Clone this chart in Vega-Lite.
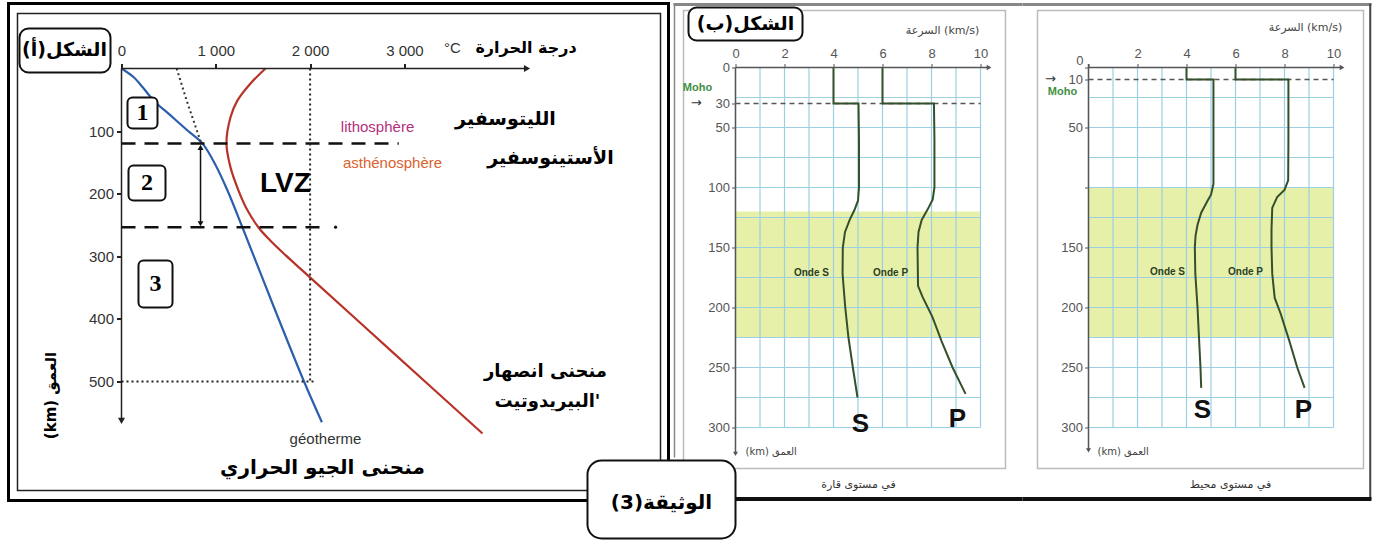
{
"$schema": "https://vega.github.io/schema/vega-lite/v6.json",
"background": "white",
"padding": {"left": 6.5, "top": 1.5, "right": 8, "bottom": 2},
"bounds": "flush",
"spacing": 5,
"config": {"view": {"stroke": null}, "text": {"font": "DejaVu Sans", "baseline": "middle"}, "axis": {"labelFont": "Liberation Sans", "grid": false, "domain": false, "title": null, "labelOverlap": false}},
"datasets": {
"one": [{}],
"gv": [{"g":0},{"g":1},{"g":2},{"g":3},{"g":4},{"g":5},{"g":6},{"g":7},{"g":8},{"g":9},{"g":10}],
"gh": [{"g":0},{"g":25},{"g":50},{"g":75},{"g":100},{"g":125},{"g":150},{"g":175},{"g":200},{"g":225},{"g":250},{"g":275},{"g":300}],
"geo": [{"T":0,"D":0},{"T":130,"D":14},{"T":225,"D":30},{"T":340,"D":51},{"T":520,"D":75},{"T":700,"D":99},{"T":860,"D":120},{"T":1000,"D":155},{"T":1124,"D":195},{"T":1283,"D":254},{"T":1600,"D":375},{"T":1930,"D":498},{"T":2125,"D":565}],
"sol": [{"T":1527,"D":0},{"T":1368,"D":24},{"T":1230,"D":51},{"T":1156,"D":78},{"T":1113,"D":120},{"T":1156,"D":158},{"T":1241,"D":195},{"T":1330,"D":225},{"T":1453,"D":254},{"T":1585,"D":276},{"T":1745,"D":299},{"T":1920,"D":323},{"T":2874,"D":453},{"T":3828,"D":583}],
"dot": [{"T":585,"D":0},{"T":690,"D":51},{"T":840,"D":117}],
"vel": [
{"p":"c","w":"S","i":0,"v":4.0,"d":0},{"p":"c","w":"S","i":1,"v":4.0,"d":30},{"p":"c","w":"S","i":2,"v":5.02,"d":30},{"p":"c","w":"S","i":3,"v":5.04,"d":60},{"p":"c","w":"S","i":4,"v":5.04,"d":100},{"p":"c","w":"S","i":5,"v":5.0,"d":111},{"p":"c","w":"S","i":6,"v":4.85,"d":119},{"p":"c","w":"S","i":7,"v":4.66,"d":127},{"p":"c","w":"S","i":8,"v":4.47,"d":137},{"p":"c","w":"S","i":9,"v":4.38,"d":150},{"p":"c","w":"S","i":10,"v":4.37,"d":172},{"p":"c","w":"S","i":11,"v":4.48,"d":200},{"p":"c","w":"S","i":12,"v":4.61,"d":225},{"p":"c","w":"S","i":13,"v":4.79,"d":250},{"p":"c","w":"S","i":14,"v":4.98,"d":275},
{"p":"c","w":"P","i":0,"v":6.0,"d":0},{"p":"c","w":"P","i":1,"v":6.0,"d":30},{"p":"c","w":"P","i":2,"v":8.1,"d":30},{"p":"c","w":"P","i":3,"v":8.12,"d":60},{"p":"c","w":"P","i":4,"v":8.12,"d":100},{"p":"c","w":"P","i":5,"v":8.05,"d":110},{"p":"c","w":"P","i":6,"v":7.85,"d":118},{"p":"c","w":"P","i":7,"v":7.6,"d":127},{"p":"c","w":"P","i":8,"v":7.47,"d":137},{"p":"c","w":"P","i":9,"v":7.43,"d":150},{"p":"c","w":"P","i":10,"v":7.45,"d":182},{"p":"c","w":"P","i":11,"v":7.63,"d":191},{"p":"c","w":"P","i":12,"v":8.04,"d":208},{"p":"c","w":"P","i":13,"v":8.41,"d":228},{"p":"c","w":"P","i":14,"v":8.86,"d":250},{"p":"c","w":"P","i":15,"v":9.39,"d":272},
{"p":"o","w":"S","i":0,"v":4.0,"d":0},{"p":"o","w":"S","i":1,"v":4.0,"d":10},{"p":"o","w":"S","i":2,"v":5.1,"d":10},{"p":"o","w":"S","i":3,"v":5.1,"d":60},{"p":"o","w":"S","i":4,"v":5.1,"d":97},{"p":"o","w":"S","i":5,"v":5.0,"d":106},{"p":"o","w":"S","i":6,"v":4.86,"d":111},{"p":"o","w":"S","i":7,"v":4.6,"d":121},{"p":"o","w":"S","i":8,"v":4.45,"d":131},{"p":"o","w":"S","i":9,"v":4.37,"d":140},{"p":"o","w":"S","i":10,"v":4.34,"d":150},{"p":"o","w":"S","i":11,"v":4.36,"d":172},{"p":"o","w":"S","i":12,"v":4.45,"d":200},{"p":"o","w":"S","i":13,"v":4.51,"d":225},{"p":"o","w":"S","i":14,"v":4.57,"d":250},{"p":"o","w":"S","i":15,"v":4.6,"d":267},
{"p":"o","w":"P","i":0,"v":6.0,"d":0},{"p":"o","w":"P","i":1,"v":6.0,"d":10},{"p":"o","w":"P","i":2,"v":8.16,"d":10},{"p":"o","w":"P","i":3,"v":8.16,"d":60},{"p":"o","w":"P","i":4,"v":8.15,"d":94},{"p":"o","w":"P","i":5,"v":8.0,"d":102},{"p":"o","w":"P","i":6,"v":7.7,"d":108},{"p":"o","w":"P","i":7,"v":7.5,"d":117},{"p":"o","w":"P","i":8,"v":7.47,"d":135},{"p":"o","w":"P","i":9,"v":7.47,"d":150},{"p":"o","w":"P","i":10,"v":7.5,"d":172},{"p":"o","w":"P","i":11,"v":7.6,"d":192},{"p":"o","w":"P","i":12,"v":7.84,"d":205},{"p":"o","w":"P","i":13,"v":8.2,"d":228},{"p":"o","w":"P","i":14,"v":8.52,"d":250},{"p":"o","w":"P","i":15,"v":8.82,"d":267}
]
},
"hconcat": [
{
"width": 660, "height": 497,
"view": {"stroke": "black", "strokeWidth": 3},
"layer": [
{"data": {"name": "one"}, "mark": {"type": "rect", "fill": null, "stroke": "#222", "strokeWidth": 1.5}, "encoding": {"x": {"datum": -1102.9}, "x2": {"datum": 5715.8}, "y": {"datum": -87.9}, "y2": {"datum": 674.1}}},
{"data": {"name": "geo"}, "mark": {"type": "line", "color": "#2b5fad", "strokeWidth": 2.2, "interpolate": "catmull-rom"},
 "encoding": {
  "x": {"field": "T", "type": "quantitative", "scale": {"domain": [-1198.3, 5800.6], "nice": false, "zero": false}, "axis": {"orient": "top", "offset": -65, "values": [0, 1000, 2000, 3000], "labelExpr": "datum.value == 0 ? '0' : format(datum.value / 1000, 'd') + ' 000'", "tickSize": 5, "tickWidth": 2, "tickColor": "#222", "labelPadding": 5, "labelFontSize": 15, "labelColor": "#333", "title": null}},
  "y": {"field": "D", "type": "quantitative", "scale": {"domain": [-103.8, 690.1], "nice": false, "zero": false, "reverse": true}, "axis": {"orient": "left", "offset": -113, "values": [100, 200, 300, 400, 500], "tickSize": 5, "tickWidth": 2, "tickColor": "#222", "labelPadding": 3, "labelFontSize": 15, "labelColor": "#333", "title": null}},
  "order": {"field": "D"}}},
{"data": {"name": "sol"}, "mark": {"type": "line", "color": "#b83228", "strokeWidth": 2.2, "interpolate": "catmull-rom"}, "encoding": {"x": {"field": "T", "type": "quantitative"}, "y": {"field": "D", "type": "quantitative"}, "order": {"field": "D"}}},
{"data": {"name": "dot"}, "mark": {"type": "line", "color": "#333", "strokeWidth": 2, "strokeDash": [2, 3]}, "encoding": {"x": {"field": "T", "type": "quantitative"}, "y": {"field": "D", "type": "quantitative"}, "order": {"field": "D"}}},
{"data": {"name": "one"}, "mark": {"type": "rule", "color": "#222", "strokeWidth": 1.5}, "encoding": {"x": {"datum": 0}, "x2": {"datum": 4290}, "y": {"datum": 0}}},
{"data": {"name": "one"}, "mark": {"type": "point", "shape": "triangle-right", "filled": true, "size": 50, "color": "#222", "opacity": 1}, "encoding": {"x": {"datum": 4300}, "y": {"datum": 0}}},
{"data": {"name": "one"}, "mark": {"type": "rule", "color": "#222", "strokeWidth": 1.5}, "encoding": {"x": {"datum": 0}, "y": {"datum": 0}, "y2": {"datum": 560}}},
{"data": {"name": "one"}, "mark": {"type": "point", "shape": "triangle-down", "filled": true, "size": 50, "color": "#222", "opacity": 1}, "encoding": {"x": {"datum": 0}, "y": {"datum": 563}}},
{"data": {"name": "one"}, "mark": {"type": "rule", "color": "#111", "strokeWidth": 2.5, "strokeDash": [14, 9]}, "encoding": {"x": {"datum": 0}, "x2": {"datum": 2940}, "y": {"datum": 120}}},
{"data": {"name": "one"}, "mark": {"type": "rule", "color": "#111", "strokeWidth": 2.5, "strokeDash": [14, 9]}, "encoding": {"x": {"datum": 0}, "x2": {"datum": 2110}, "y": {"datum": 253.5}}},
{"data": {"name": "one"}, "mark": {"type": "point", "shape": "circle", "filled": true, "size": 10, "color": "#111", "opacity": 1}, "encoding": {"x": {"datum": 2270}, "y": {"datum": 253.5}}},
{"data": {"name": "one"}, "mark": {"type": "rule", "color": "#222", "strokeWidth": 2, "strokeDash": [2, 3]}, "encoding": {"x": {"datum": 2000}, "y": {"datum": 0}, "y2": {"datum": 500}}},
{"data": {"name": "one"}, "mark": {"type": "rule", "color": "#222", "strokeWidth": 2, "strokeDash": [2, 3]}, "encoding": {"x": {"datum": 0}, "x2": {"datum": 2050}, "y": {"datum": 500}}},
{"data": {"name": "one"}, "mark": {"type": "rule", "color": "#111", "strokeWidth": 1.5}, "encoding": {"x": {"datum": 838}, "y": {"datum": 126}, "y2": {"datum": 248}}},
{"data": {"name": "one"}, "mark": {"type": "point", "shape": "triangle-up", "filled": true, "size": 35, "color": "#111", "opacity": 1}, "encoding": {"x": {"datum": 838}, "y": {"datum": 126}}},
{"data": {"name": "one"}, "mark": {"type": "point", "shape": "triangle-down", "filled": true, "size": 35, "color": "#111", "opacity": 1}, "encoding": {"x": {"datum": 838}, "y": {"datum": 248}}},
{"data": {"name": "one"}, "mark": {"type": "rect", "fill": "white", "stroke": "#111", "strokeWidth": 2, "cornerRadius": 5}, "encoding": {"x": {"datum": 63.6}, "x2": {"datum": 381.8}, "y": {"datum": 46.3}, "y2": {"datum": 95.8}}},
{"data": {"name": "one"}, "mark": {"type": "rect", "fill": "white", "stroke": "#111", "strokeWidth": 2, "cornerRadius": 5}, "encoding": {"x": {"datum": 74.2}, "x2": {"datum": 466.6}, "y": {"datum": 155}, "y2": {"datum": 210.9}}},
{"data": {"name": "one"}, "mark": {"type": "rect", "fill": "white", "stroke": "#111", "strokeWidth": 2, "cornerRadius": 5}, "encoding": {"x": {"datum": 180}, "x2": {"datum": 541}, "y": {"datum": 306.7}, "y2": {"datum": 381.8}}},
{"data": {"name": "one"}, "mark": {"type": "text", "text": "1", "font": "Liberation Serif", "fontWeight": "bold", "fontSize": 24}, "encoding": {"x": {"datum": 222.7}, "y": {"datum": 71}}},
{"data": {"name": "one"}, "mark": {"type": "text", "text": "2", "font": "Liberation Serif", "fontWeight": "bold", "fontSize": 24}, "encoding": {"x": {"datum": 270}, "y": {"datum": 183}}},
{"data": {"name": "one"}, "mark": {"type": "text", "text": "3", "font": "Liberation Serif", "fontWeight": "bold", "fontSize": 24}, "encoding": {"x": {"datum": 360}, "y": {"datum": 344}}},
{"data": {"name": "one"}, "mark": {"type": "rect", "fill": "white", "stroke": "#111", "strokeWidth": 2, "cornerRadius": 9}, "encoding": {"x": {"datum": -1081.7}, "x2": {"datum": -116.6}, "y": {"datum": -63.9}, "y2": {"datum": 6.4}}},
{"data": {"name": "one"}, "mark": {"type": "text", "text": "(أ)\u200eالشكل", "fontWeight": "bold", "fontSize": 19}, "encoding": {"x": {"datum": -604.5}, "y": {"datum": -28.8}}},
{"data": {"name": "one"}, "mark": {"type": "text", "text": "LVZ", "font": "Liberation Sans", "fontWeight": "bold", "fontSize": 28}, "encoding": {"x": {"datum": 1739}, "y": {"datum": 185}}},
{"data": {"name": "one"}, "mark": {"type": "text", "text": "lithosphère", "font": "Liberation Sans", "fontSize": 15, "color": "#b2307c"}, "encoding": {"x": {"datum": 2715}, "y": {"datum": 92.7}}},
{"data": {"name": "one"}, "mark": {"type": "text", "text": "asthénosphère", "font": "Liberation Sans", "fontSize": 15, "color": "#d9622f"}, "encoding": {"x": {"datum": 2874}, "y": {"datum": 150.2}}},
{"data": {"name": "one"}, "mark": {"type": "text", "text": "الليتوسفير", "fontWeight": "bold", "fontSize": 19}, "encoding": {"x": {"datum": 4072}, "y": {"datum": 79.9}}},
{"data": {"name": "one"}, "mark": {"type": "text", "text": "الأستينوسفير", "fontWeight": "bold", "fontSize": 19}, "encoding": {"x": {"datum": 4549}, "y": {"datum": 142.2}}},
{"data": {"name": "one"}, "mark": {"type": "text", "text": "درجة الحرارة", "fontWeight": "bold", "fontSize": 16}, "encoding": {"x": {"datum": 4290}, "y": {"datum": -33.5}}},
{"data": {"name": "one"}, "mark": {"type": "text", "text": "°C", "font": "Liberation Sans", "fontSize": 15, "color": "#333"}, "encoding": {"x": {"datum": 3510}, "y": {"datum": -33.5}}},
{"data": {"name": "one"}, "mark": {"type": "text", "text": "منحنى انصهار", "fontWeight": "bold", "fontSize": 18}, "encoding": {"x": {"datum": 4496}, "y": {"datum": 485.6}}},
{"data": {"name": "one"}, "mark": {"type": "text", "text": "البيريدوتيت'", "fontWeight": "bold", "fontSize": 18}, "encoding": {"x": {"datum": 4517}, "y": {"datum": 533.5}}},
{"data": {"name": "one"}, "mark": {"type": "text", "text": "géotherme", "font": "Liberation Sans", "fontSize": 15, "color": "#333"}, "encoding": {"x": {"datum": 2163}, "y": {"datum": 591.1}}},
{"data": {"name": "one"}, "mark": {"type": "text", "text": "منحنى الجيو الحراري", "fontWeight": "bold", "fontSize": 20}, "encoding": {"x": {"datum": 2131}, "y": {"datum": 637.4}}},
{"data": {"name": "one"}, "mark": {"type": "text", "text": "(km) العمق", "fontWeight": "bold", "fontSize": 15, "angle": 270}, "encoding": {"x": {"datum": -752.9}, "y": {"datum": 522.4}}}
]
},
{
"hconcat": [
{
"width": 349, "height": 497,
"layer": [
{"data": {"name": "one"}, "mark": {"type": "rect", "fill": "#e4eea0", "opacity": 0.9}, "encoding": {"x": {"datum": 0}, "x2": {"datum": 10}, "y": {"datum": 120}, "y2": {"datum": 225}}},
{"data": {"name": "gv"}, "mark": {"type": "rule", "color": "#9ccfe3", "strokeWidth": 1.2}, "encoding": {"x": {"field": "g", "type": "quantitative"}, "y": {"datum": 0}, "y2": {"datum": 300}}},
{"data": {"name": "gh"}, "mark": {"type": "rule", "color": "#9ccfe3", "strokeWidth": 1.2}, "encoding": {"y": {"field": "g", "type": "quantitative"}, "x": {"datum": 0}, "x2": {"datum": 10}}},
{"data": {"name": "one"}, "mark": {"type": "rule", "color": "#555", "strokeWidth": 1.5, "strokeDash": [5, 4]}, "encoding": {"x": {"datum": 0}, "x2": {"datum": 10}, "y": {"datum": 30}}},
{"data": {"name": "vel"}, "transform": [{"filter": "datum.p == 'c'"}], "mark": {"type": "line", "color": "#34502b", "strokeWidth": 2},
 "encoding": {
  "x": {"field": "v", "type": "quantitative", "scale": {"domain": [-2.5306, 11.7143], "nice": false, "zero": false}, "axis": {"orient": "top", "offset": -64, "values": [0, 2, 4, 6, 8, 10], "tickSize": 4, "tickColor": "#555", "labelPadding": 3, "labelFontSize": 13, "labelColor": "#555", "title": null}},
  "y": {"field": "d", "type": "quantitative", "scale": {"domain": [-53.333, 360.833], "nice": false, "zero": false, "reverse": true}, "axis": {"orient": "left", "offset": -62, "values": [0, 30, 50, 100, 150, 200, 250, 300], "tickSize": 4, "tickColor": "#555", "labelPadding": 2, "labelFontSize": 13, "labelColor": "#555", "title": null}},
  "detail": {"field": "w"},
  "order": {"field": "i"}}},
{"data": {"name": "one"}, "mark": {"type": "rule", "color": "#555", "strokeWidth": 1.5}, "encoding": {"x": {"datum": 0}, "x2": {"datum": 10.3}, "y": {"datum": 0}}},
{"data": {"name": "one"}, "mark": {"type": "point", "shape": "triangle-right", "filled": true, "size": 30, "color": "#555", "opacity": 1}, "encoding": {"x": {"datum": 10.35}, "y": {"datum": 0}}},
{"data": {"name": "one"}, "mark": {"type": "rule", "color": "#555", "strokeWidth": 1.5}, "encoding": {"x": {"datum": 0}, "y": {"datum": 0}, "y2": {"datum": 321}}},
{"data": {"name": "one"}, "mark": {"type": "point", "shape": "triangle-down", "filled": true, "size": 25, "color": "#555", "opacity": 1}, "encoding": {"x": {"datum": 0}, "y": {"datum": 322}}},
{"data": {"name": "one"}, "mark": {"type": "rect", "fill": null, "stroke": "#bbbbbb", "strokeWidth": 1.5}, "encoding": {"x": {"datum": -2.122}, "x2": {"datum": 11.02}, "y": {"datum": -47.5}, "y2": {"datum": 334.17}}},
{"data": {"name": "one"}, "mark": {"type": "rule", "color": "#888", "strokeWidth": 3}, "encoding": {"x": {"datum": -2.5306}, "x2": {"datum": 11.7143}, "y": {"datum": -52.5}}},
{"data": {"name": "one"}, "mark": {"type": "rule", "color": "#888", "strokeWidth": 1.5}, "encoding": {"x": {"datum": -2.49}, "y": {"datum": -53.3}, "y2": {"datum": 325}}},
{"data": {"name": "one"}, "mark": {"type": "rule", "color": "#111", "strokeWidth": 4}, "encoding": {"x": {"datum": 0}, "x2": {"datum": 11.7143}, "y": {"datum": 359.5}}},
{"data": {"name": "one"}, "mark": {"type": "rect", "fill": "white", "stroke": "#111", "strokeWidth": 2, "cornerRadius": 8}, "encoding": {"x": {"datum": -1.918}, "x2": {"datum": 2.735}, "y": {"datum": -50}, "y2": {"datum": -22.5}}},
{"data": {"name": "one"}, "mark": {"type": "text", "text": "(ب)\u200eالشكل", "fontWeight": "bold", "fontSize": 19}, "encoding": {"x": {"datum": 0.408}, "y": {"datum": -36.25}}},
{"data": {"name": "one"}, "mark": {"type": "text", "text": "السرعة (km/s)", "fontSize": 11, "color": "#444"}, "encoding": {"x": {"datum": 8.45}, "y": {"datum": -30.8}}},
{"data": {"name": "one"}, "mark": {"type": "text", "text": "(km) العمق", "fontSize": 10, "color": "#444", "align": "left"}, "encoding": {"x": {"datum": 0.41}, "y": {"datum": 320.8}}},
{"data": {"name": "one"}, "mark": {"type": "text", "text": "في مستوى قارة", "fontSize": 11, "color": "#333"}, "encoding": {"x": {"datum": 5.02}, "y": {"datum": 348.3}}},
{"data": {"name": "one"}, "mark": {"type": "text", "text": "Moho", "font": "Liberation Sans", "fontWeight": "bold", "fontSize": 11, "color": "#3f8f3f"}, "encoding": {"x": {"datum": -1.55}, "y": {"datum": 17.5}}},
{"data": {"name": "one"}, "mark": {"type": "text", "text": "→", "fontSize": 13, "color": "#333"}, "encoding": {"x": {"datum": -1.6}, "y": {"datum": 29.5}}},
{"data": {"name": "one"}, "mark": {"type": "text", "text": "Onde S", "font": "Liberation Sans", "fontWeight": "bold", "fontSize": 10, "color": "#2b3f22"}, "encoding": {"x": {"datum": 3.1}, "y": {"datum": 171}}},
{"data": {"name": "one"}, "mark": {"type": "text", "text": "Onde P", "font": "Liberation Sans", "fontWeight": "bold", "fontSize": 10, "color": "#2b3f22"}, "encoding": {"x": {"datum": 6.33}, "y": {"datum": 171}}},
{"data": {"name": "one"}, "mark": {"type": "text", "text": "S", "font": "Liberation Sans", "fontWeight": "bold", "fontSize": 26, "color": "#111"}, "encoding": {"x": {"datum": 5.1}, "y": {"datum": 296.7}}},
{"data": {"name": "one"}, "mark": {"type": "text", "text": "P", "font": "Liberation Sans", "fontWeight": "bold", "fontSize": 26, "color": "#111"}, "encoding": {"x": {"datum": 9.06}, "y": {"datum": 292.5}}},
{"data": {"name": "one"}, "mark": {"type": "rect", "fill": "white", "stroke": "#111", "strokeWidth": 2, "cornerRadius": 14}, "encoding": {"x": {"datum": -6.041}, "x2": {"datum": 0}, "y": {"datum": 327.5}, "y2": {"datum": 392.5}}},
{"data": {"name": "one"}, "mark": {"type": "text", "text": "(3)\u200eالوثيقة", "fontWeight": "bold", "fontSize": 20}, "encoding": {"x": {"datum": -3.02}, "y": {"datum": 362.5}}}
]
},
{
"width": 349, "height": 497,
"layer": [
{"data": {"name": "one"}, "mark": {"type": "rect", "fill": "#e4eea0", "opacity": 0.9}, "encoding": {"x": {"datum": 0}, "x2": {"datum": 10}, "y": {"datum": 100}, "y2": {"datum": 225}}},
{"data": {"name": "gv"}, "mark": {"type": "rule", "color": "#9ccfe3", "strokeWidth": 1.2}, "encoding": {"x": {"field": "g", "type": "quantitative"}, "y": {"datum": 0}, "y2": {"datum": 300}}},
{"data": {"name": "gh"}, "mark": {"type": "rule", "color": "#9ccfe3", "strokeWidth": 1.2}, "encoding": {"y": {"field": "g", "type": "quantitative"}, "x": {"datum": 0}, "x2": {"datum": 10}}},
{"data": {"name": "one"}, "mark": {"type": "rule", "color": "#555", "strokeWidth": 1.5, "strokeDash": [5, 4]}, "encoding": {"x": {"datum": 0}, "x2": {"datum": 10}, "y": {"datum": 10}}},
{"data": {"name": "vel"}, "transform": [{"filter": "datum.p == 'o'"}], "mark": {"type": "line", "color": "#34502b", "strokeWidth": 2},
 "encoding": {
  "x": {"field": "v", "type": "quantitative", "scale": {"domain": [-2.6939, 11.551], "nice": false, "zero": false}, "axis": {"orient": "top", "offset": -64, "values": [0, 2, 4, 6, 8, 10], "labelExpr": "datum.value == 0 ? '' : datum.label", "tickSize": 4, "tickColor": "#555", "labelPadding": 3, "labelFontSize": 13, "labelColor": "#555", "title": null}},
  "y": {"field": "d", "type": "quantitative", "scale": {"domain": [-53.333, 360.833], "nice": false, "zero": false, "reverse": true}, "axis": {"orient": "left", "offset": -66, "values": [0, 10, 50, 100, 150, 200, 250, 300], "labelExpr": "datum.value == 100 || datum.value == 0 ? '' : datum.label", "tickSize": 4, "tickColor": "#555", "labelPadding": 2, "labelFontSize": 13, "labelColor": "#555", "title": null}},
  "detail": {"field": "w"},
  "order": {"field": "i"}}},
{"data": {"name": "one"}, "mark": {"type": "rule", "color": "#555", "strokeWidth": 1.5}, "encoding": {"x": {"datum": 0}, "x2": {"datum": 10.3}, "y": {"datum": 0}}},
{"data": {"name": "one"}, "mark": {"type": "point", "shape": "triangle-right", "filled": true, "size": 30, "color": "#555", "opacity": 1}, "encoding": {"x": {"datum": 10.35}, "y": {"datum": 0}}},
{"data": {"name": "one"}, "mark": {"type": "rule", "color": "#555", "strokeWidth": 1.5}, "encoding": {"x": {"datum": 0}, "y": {"datum": -3}, "y2": {"datum": 318}}},
{"data": {"name": "one"}, "mark": {"type": "point", "shape": "triangle-down", "filled": true, "size": 25, "color": "#555", "opacity": 1}, "encoding": {"x": {"datum": 0}, "y": {"datum": 319}}},
{"data": {"name": "one"}, "mark": {"type": "rect", "fill": null, "stroke": "#bbbbbb", "strokeWidth": 1.5}, "encoding": {"x": {"datum": -2.082}, "x2": {"datum": 11.224}, "y": {"datum": -47.5}, "y2": {"datum": 334.17}}},
{"data": {"name": "one"}, "mark": {"type": "rule", "color": "#888", "strokeWidth": 3}, "encoding": {"x": {"datum": -2.6939}, "x2": {"datum": 11.551}, "y": {"datum": -52.5}}},
{"data": {"name": "one"}, "mark": {"type": "rule", "color": "#444", "strokeWidth": 2}, "encoding": {"x": {"datum": 11.5}, "y": {"datum": -53.3}, "y2": {"datum": 360}}},
{"data": {"name": "one"}, "mark": {"type": "rule", "color": "#111", "strokeWidth": 4}, "encoding": {"x": {"datum": -2.6939}, "x2": {"datum": 11.55}, "y": {"datum": 359.5}}},
{"data": {"name": "one"}, "mark": {"type": "text", "text": "السرعة (km/s)", "fontSize": 11, "color": "#444"}, "encoding": {"x": {"datum": 8.857}, "y": {"datum": -32.5}}},
{"data": {"name": "one"}, "mark": {"type": "text", "text": "(km) العمق", "fontSize": 10, "color": "#444", "align": "left"}, "encoding": {"x": {"datum": 0.367}, "y": {"datum": 320.8}}},
{"data": {"name": "one"}, "mark": {"type": "text", "text": "في مستوى محيط", "fontSize": 11, "color": "#333"}, "encoding": {"x": {"datum": 5.796}, "y": {"datum": 348.3}}},
{"data": {"name": "one"}, "mark": {"type": "text", "text": "Moho", "font": "Liberation Sans", "fontWeight": "bold", "fontSize": 11, "color": "#3f8f3f"}, "encoding": {"x": {"datum": -1.061}, "y": {"datum": 20.8}}},
{"data": {"name": "one"}, "mark": {"type": "text", "text": "→", "fontSize": 13, "color": "#333"}, "encoding": {"x": {"datum": -1.55}, "y": {"datum": 9.2}}},
{"data": {"name": "one"}, "mark": {"type": "text", "text": "0", "font": "Liberation Sans", "fontSize": 13, "color": "#555"}, "encoding": {"x": {"datum": -0.35}, "y": {"datum": -5.5}}},
{"data": {"name": "one"}, "mark": {"type": "text", "text": "Onde S", "font": "Liberation Sans", "fontWeight": "bold", "fontSize": 10, "color": "#2b3f22"}, "encoding": {"x": {"datum": 3.224}, "y": {"datum": 170.8}}},
{"data": {"name": "one"}, "mark": {"type": "text", "text": "Onde P", "font": "Liberation Sans", "fontWeight": "bold", "fontSize": 10, "color": "#2b3f22"}, "encoding": {"x": {"datum": 6.408}, "y": {"datum": 170.8}}},
{"data": {"name": "one"}, "mark": {"type": "text", "text": "S", "font": "Liberation Sans", "fontWeight": "bold", "fontSize": 26, "color": "#111"}, "encoding": {"x": {"datum": 4.653}, "y": {"datum": 285.8}}},
{"data": {"name": "one"}, "mark": {"type": "text", "text": "P", "font": "Liberation Sans", "fontWeight": "bold", "fontSize": 26, "color": "#111"}, "encoding": {"x": {"datum": 8.776}, "y": {"datum": 285.8}}}
]
}
],
"spacing": 0,
"bounds": "flush"
}
]
}
